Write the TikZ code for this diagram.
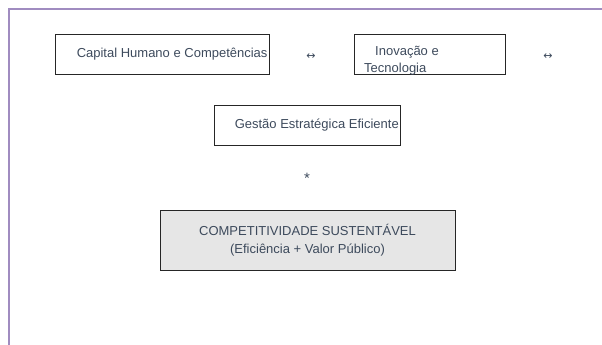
\documentclass[tikz,border=0pt]{standalone}
\usepackage{fontspec}
\setmainfont{Liberation Sans}
\newfontfamily\symfont{DejaVu Sans}
\usepackage{xcolor}
\definecolor{frameline}{HTML}{A08CC0}
\definecolor{inktext}{HTML}{3D4A5C}
\definecolor{boxfill}{HTML}{E6E6E6}
\begin{document}
\begin{tikzpicture}[x=1pt, y=-1pt,
    box/.style={draw=black!85, line width=0.9pt, minimum height=40pt, inner sep=0pt},
    txt/.style={text=inktext, font=\fontsize{13}{18}\selectfont, inner sep=0pt},
    link/.style={text=inktext, font=\symfont\fontsize{11}{12}\selectfont, inner sep=0pt}]
    \useasboundingbox (0,0) rectangle (602,345);
    % Frame
    \draw[frameline, line width=2pt] (9,345) -- (9,9) -- (602,9);

    % Top row
    \node[box, minimum width=214pt] (cap) at (162,54) {};
    \node[txt, anchor=west] (captxt) at ([xshift=22pt]cap.west) {Capital Humano e Competências};
    \node[link] (linkA) at (311,57) {↔};
    \node[box, minimum width=151pt] (inov) at (429.5,54) {};
    \node[txt, anchor=west] (inovA) at (375,52) {Inovação e};
    \node[txt, anchor=west] (inovB) at (364,69) {Tecnologia};
    \node[link] (linkB) at (548,57) {↔};

    % Middle
    \node[box, minimum width=186pt] (gest) at (307,125) {};
    \node[txt, anchor=west] (gesttxt) at ([xshift=21pt]gest.west) {Gestão Estratégica Eficiente};
    \node[txt, font=\fontsize{15}{18}\selectfont] (star) at (307,178) {*};

    % Result
    \node[box, fill=boxfill, minimum width=295pt, minimum height=60pt, align=center, txt,
          draw=black!85] (comp) at (307.5,240) {COMPETITIVIDADE SUSTENTÁVEL\\(Eficiência + Valor Público)};
\end{tikzpicture}
\end{document}
